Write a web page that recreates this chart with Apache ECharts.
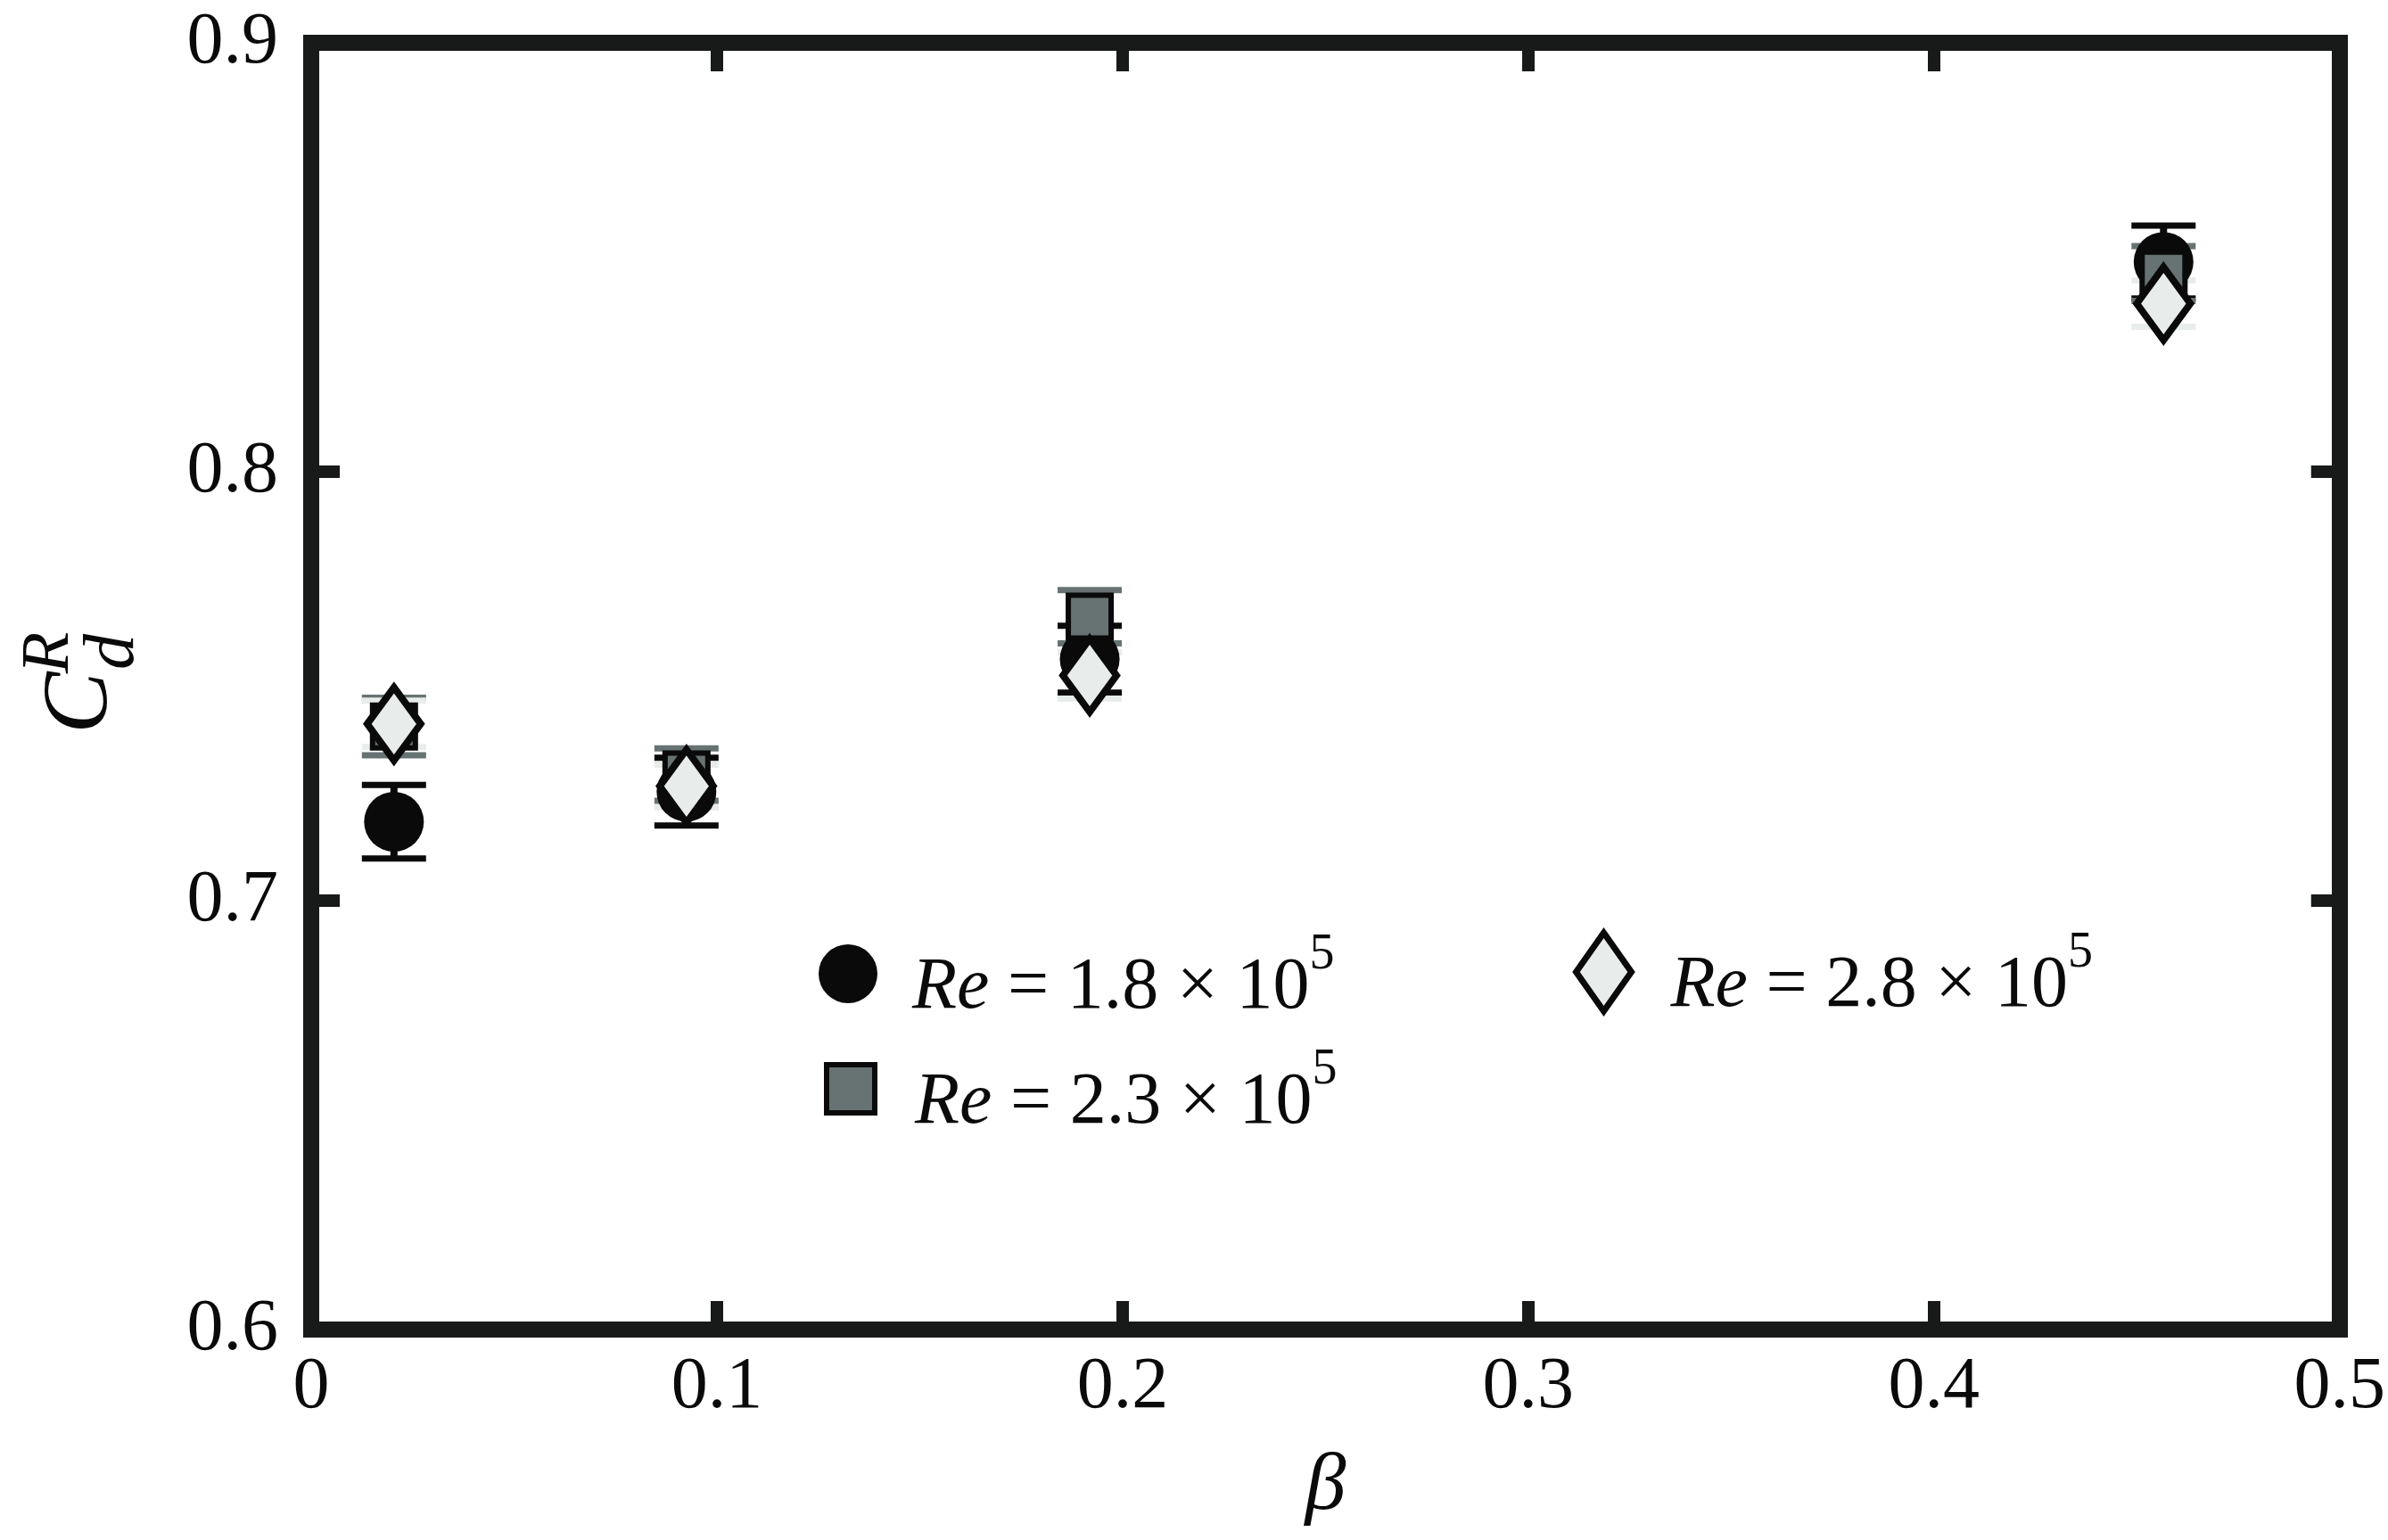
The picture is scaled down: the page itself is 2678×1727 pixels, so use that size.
<!DOCTYPE html>
<html>
<head>
<meta charset="utf-8">
<script src="https://cdn.jsdelivr.net/npm/echarts@6/dist/echarts.min.js"></script>
<style>
  html, body { margin: 0; padding: 0; background: #fff; }
  #main { width: 2678px; height: 1727px; }
</style>
</head>
<body>
<div id="main"></div>
<script>
// data
var beta = [0.0204, 0.0925, 0.1919, 0.4566];
var reLabels = ['1.8', '2.3', '2.8'];
var cd18 = [0.7184, 0.7254, 0.7563, 0.8489];
var err18 = [0.0086, 0.0079, 0.0078, 0.0085];
var cd23 = [0.7406, 0.7294, 0.7662, 0.8462];
var err23 = [0.0067, 0.0061, 0.0062, 0.0064];
var cd28 = [0.7412, 0.7267, 0.7525, 0.8392];
var err28 = [0.0054, 0.0050, 0.0054, 0.0054];
var xTicks = [0, 0.1, 0.2, 0.3, 0.4, 0.5];
var yTicks = [0.6, 0.7, 0.8, 0.9];

var serif = '"Liberation Serif", "Times New Roman", serif';
var ink = '#0a0a0a';
var frame = '#181a19';

var names = reLabels.map(function (r) { return 'Re = ' + r + ' × 10^5'; });

function pts(ys) {
    return beta.map(function (b, i) { return [b, ys[i]]; });
}
function errPts(ys, es) {
    return beta.map(function (b, i) { return [b, ys[i], es[i]]; });
}

function errBar(color, stemW, capH) {
    return function (params, api) {
        var x = api.value(0), y = api.value(1), e = api.value(2);
        var top = api.coord([x, y + e]);
        var bot = api.coord([x, y - e]);
        var hw = 36;
        return {
            type: 'group',
            children: [
                { type: 'rect', shape: { x: top[0] - stemW / 2, y: top[1], width: stemW, height: bot[1] - top[1] }, style: { fill: color } },
                { type: 'rect', shape: { x: top[0] - hw, y: top[1] - capH / 2, width: hw * 2, height: capH }, style: { fill: color } },
                { type: 'rect', shape: { x: bot[0] - hw, y: bot[1] - capH / 2, width: hw * 2, height: capH }, style: { fill: color } }
            ]
        };
    };
}

function legendText(idx, gap) {
    return {
        formatter: function () {
            return '{g|}{i|Re}{n| = ' + reLabels[idx] + ' × 10}{s|5}';
        },
        textStyle: {
            fontFamily: serif,
            fontSize: 82,
            color: ink,
            lineHeight: 110,
            rich: {
                g: { width: gap, lineHeight: 110 },
                n: { fontFamily: serif, fontSize: 82, color: ink, lineHeight: 110, padding: [32, 0, 0, 0] },
                i: { fontFamily: serif, fontSize: 82, fontStyle: 'italic', color: ink, lineHeight: 110, padding: [32, 0, 0, 0] },
                s: { fontFamily: serif, fontSize: 56, color: ink, lineHeight: 22, verticalAlign: 'top', padding: [6, 0, 0, 0] }
            }
        }
    };
}

var dom = document.getElementById('main');
var myChart = echarts.init(dom, null, { renderer: 'canvas' });

var axisLineStyle = { color: frame, width: 18, cap: 'square' };
var tickStyle = { show: true, inside: true, length: 32, lineStyle: { color: frame, width: 14 } };

var option = {
    animation: false,
    backgroundColor: '#fff',
    grid: { left: 349, right: 53, top: 48, bottom: 236, containLabel: false },
    xAxis: [
        {
            type: 'value', position: 'bottom', min: 0, max: 0.5, interval: 0.1,
            axisLine: { show: true, onZero: false, lineStyle: axisLineStyle },
            axisTick: tickStyle,
            splitLine: { show: false },
            axisLabel: {
                margin: 24, fontFamily: serif, fontSize: 82, color: ink,
                showMinLabel: true, showMaxLabel: true,
                formatter: function (v) { return String(+v.toFixed(1)); }
            },
            name: 'β', nameLocation: 'middle', nameGap: 131,
            nameTextStyle: { fontFamily: serif, fontSize: 92, fontStyle: 'italic', color: ink }
        },
        {
            type: 'value', position: 'top', min: 0, max: 0.5, interval: 0.1,
            axisLine: { show: true, onZero: false, lineStyle: axisLineStyle },
            axisTick: tickStyle, axisLabel: { show: false }, splitLine: { show: false }
        }
    ],
    yAxis: [
        {
            type: 'value', position: 'left', min: 0.6, max: 0.9, interval: 0.1,
            axisLine: { show: true, onZero: false, lineStyle: axisLineStyle },
            axisTick: tickStyle,
            splitLine: { show: false },
            axisLabel: {
                margin: 37, fontFamily: serif, fontSize: 82, color: ink,
                showMinLabel: true, showMaxLabel: true,
                formatter: function (v) { return (+v).toFixed(1); }
            }
        },
        {
            type: 'value', position: 'right', min: 0.6, max: 0.9, interval: 0.1,
            axisLine: { show: true, onZero: false, lineStyle: axisLineStyle },
            axisTick: tickStyle, axisLabel: { show: false }, splitLine: { show: false }
        }
    ],
    legend: [
        Object.assign({ data: [names[0]], left: 918, top: 1035, padding: 0, itemWidth: 66, itemHeight: 66, selectedMode: false,
            itemStyle: { borderWidth: 0 } }, legendText(0, 34)),
        Object.assign({ data: [names[1]], left: 924, top: 1164, padding: 0, itemWidth: 54, itemHeight: 54, selectedMode: false,
            itemStyle: { borderColor: ink, borderWidth: 6 } }, legendText(1, 40)),
        Object.assign({ data: [names[2]], left: 1764, top: 1033, padding: 0, itemWidth: 62, itemHeight: 88, selectedMode: false,
            itemStyle: { borderColor: ink, borderWidth: 7 } }, legendText(2, 39))
    ],
    graphic: [
        { type: 'text', x: 92, y: 788, rotation: Math.PI / 2, style: { text: 'C', fontFamily: serif, fontSize: 104, fontStyle: 'italic', fill: ink, align: 'center', verticalAlign: 'middle' } },
        { type: 'text', x: 56, y: 732, rotation: Math.PI / 2, style: { text: 'R', fontFamily: serif, fontSize: 76, fontStyle: 'italic', fill: ink, align: 'center', verticalAlign: 'middle' } },
        { type: 'text', x: 128, y: 731, rotation: Math.PI / 2, style: { text: 'd', fontFamily: serif, fontSize: 80, fontStyle: 'italic', fill: ink, align: 'center', verticalAlign: 'middle' } }
    ],
    series: [
        {
            name: names[0], type: 'scatter', symbol: 'circle', symbolSize: 67,
            itemStyle: { color: ink, opacity: 1 },
            data: pts(cd18)
        },
        {
            name: 'err18', type: 'custom', clip: false,
            renderItem: errBar(ink, 8, 7),
            encode: { x: 0, y: 1 },
            data: errPts(cd18, err18)
        },
        {
            name: names[1], type: 'scatter', symbol: 'rect', symbolSize: 48,
            itemStyle: { color: '#667372', borderColor: ink, borderWidth: 6, opacity: 1 },
            data: pts(cd23)
        },
        {
            name: 'err23', type: 'custom', clip: false,
            renderItem: errBar('#667372', 6, 7),
            encode: { x: 0, y: 1 },
            data: errPts(cd23, err23)
        },
        {
            name: names[2], type: 'scatter', symbol: 'diamond', symbolSize: [60, 82],
            itemStyle: { color: '#e8eceb', borderColor: ink, borderWidth: 8, opacity: 1 },
            data: pts(cd28)
        },
        {
            name: 'err28', type: 'custom', clip: false,
            renderItem: errBar('#e8eceb', 6, 7),
            encode: { x: 0, y: 1 },
            data: errPts(cd28, err28)
        }
    ]
};

if (option && typeof option === 'object') {
    myChart.setOption(option);
}

window.addEventListener('resize', myChart.resize);
</script>
</body>
</html>
